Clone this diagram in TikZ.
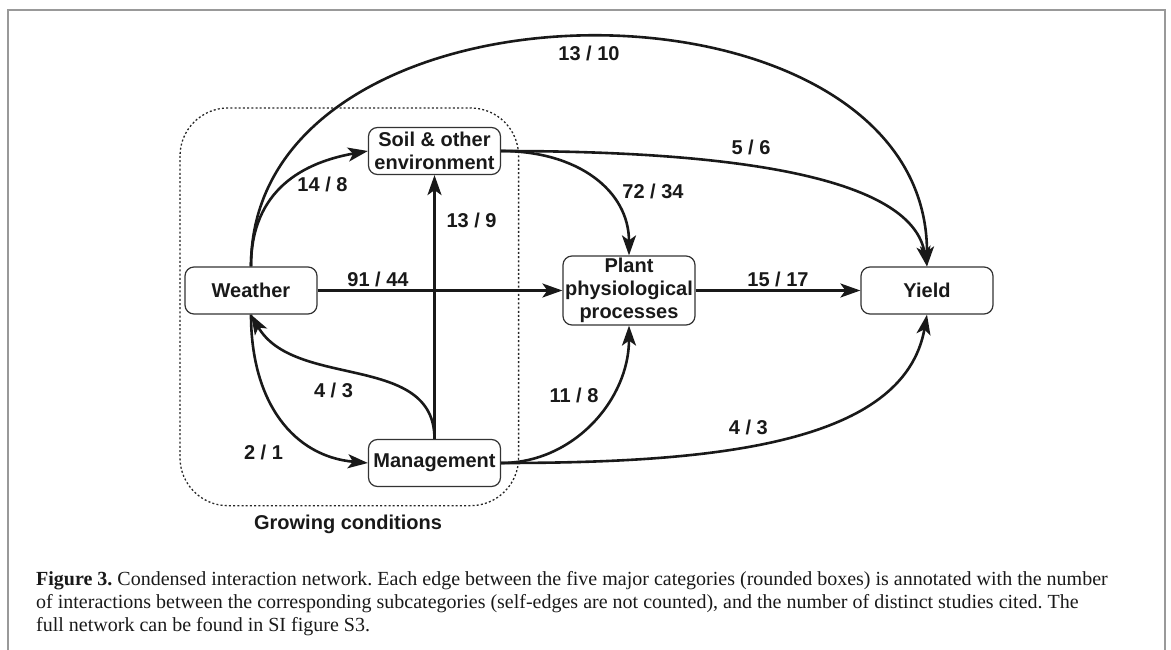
\documentclass[tikz,border=0pt]{standalone}
\usepackage{fontspec}
\setmainfont{Liberation Serif}
\newfontfamily\boxfont{Liberation Sans}
\usetikzlibrary{arrows.meta}
\frenchspacing

\begin{document}
\begin{tikzpicture}[x=1pt,y=1pt,
		box/.style={draw=black!80, line width=1.2pt, rounded corners=9pt, minimum width=132pt, minimum height=47pt,
			inner sep=1pt, align=center, text=black!90, font=\boxfont\bfseries\fontsize{20}{23}\selectfont},
		lbl/.style={inner sep=0pt, text=black!90, font=\boxfont\bfseries\fontsize{20}{23}\selectfont},
		link/.style={line width=2.6pt, black!90, -{Stealth[length=20pt,width=14pt,inset=5pt]}},
		captext/.style={anchor=base west, inner sep=0pt, text=black!90, font=\fontsize{20}{23}\selectfont}]
		\useasboundingbox (0,0) rectangle (1171,-650);
		\draw[black!40, line width=2pt] (8.4,-650) -- (8.4,-10) -- (1165,-10) -- (1165,-650);

		\draw[black!85, line width=1.3pt, dash pattern=on 2pt off 2.2pt, rounded corners=48pt]
			(180,-108) rectangle (518.6,-505.7);
		\node[lbl] (grow) at (348,-524) {Growing conditions};

		\node[box] (weather) at (251,-290.5) {Weather};
		\node[box] (soil) at (434.5,-151) {Soil \& other\\environment};
		\node[box, minimum height=69pt] (plant) at (629,-290.5) {Plant\\physiological\\processes};
		\node[box] (yield) at (927,-290.5) {Yield};
		\node[box] (mgmt) at (434.5,-463) {Management};

		\draw[link] (weather.north) to[out=90,in=90,looseness=1.16] (yield.north);
		\draw[link] (weather.north) to[out=90,in=190,out looseness=1.2] (soil.west);
		\draw[link] (weather) -- (plant);
		\draw[link] (soil.east) to[out=0,in=90,out looseness=1.2] (plant.north);
		\draw[link] (soil.east) to[out=0,in=100,in looseness=0.6] (yield.north);
		\draw[link] (plant) -- (yield);
		\draw[link] (mgmt) -- (soil);
		\draw[link] (mgmt.north) to[out=90,in=-60] (weather.south);
		\draw[link] (weather.south) to[out=-90,in=175,out looseness=1.2] (mgmt.west);
		\draw[link] (mgmt.east) to[out=0,in=-90] (plant.south);
		\draw[link] (mgmt.east) to[out=0,in=-100,out looseness=1.2,in looseness=0.75] (yield.south);

		\node[lbl] (l1) at (589,-53.5) {13 / 10};
		\node[lbl] (l2) at (322.5,-184.7) {14 / 8};
		\node[lbl] (l3) at (471.6,-220) {13 / 9};
		\node[lbl] (l4) at (378,-279) {91 / 44};
		\node[lbl] (l5) at (751,-147) {5 / 6};
		\node[lbl] (l6) at (653,-191.7) {72 / 34};
		\node[lbl] (l7) at (778,-279) {15 / 17};
		\node[lbl] (l8) at (333.5,-390.5) {4 / 3};
		\node[lbl] (l9) at (263.5,-452) {2 / 1};
		\node[lbl] (l10) at (574,-395) {11 / 8};
		\node[lbl] (l11) at (748.4,-427) {4 / 3};

		\node[captext] (cap1) at (36,-585.7) {\textbf{Figure 3.} Condensed interaction network. Each edge between the five major categories (rounded boxes) is annotated with the number};
		\node[captext] (cap2) at (36,-608.5) {of interactions between the corresponding subcategories (self-edges are not counted), and the number of distinct studies cited. The};
		\node[captext] (cap3) at (36,-631.5) {full network can be found in SI figure S3.};
	\end{tikzpicture}
\end{document}
